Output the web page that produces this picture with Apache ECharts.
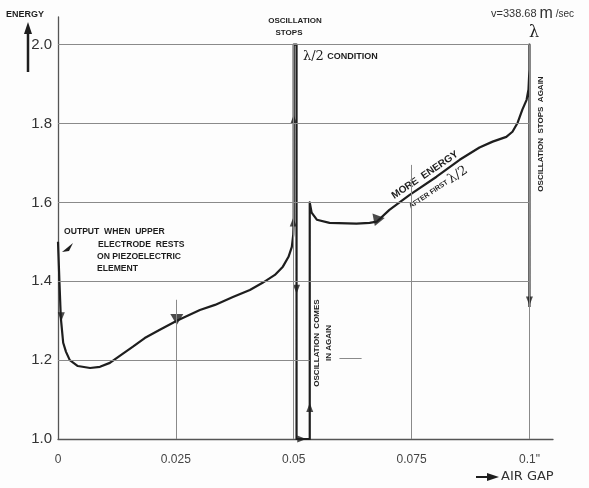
<!DOCTYPE html>
<html>
<head>
<meta charset="utf-8">
<script src="https://cdn.jsdelivr.net/npm/echarts@6/dist/echarts.min.js"></script>
<style>
  html, body { margin: 0; background: #fff; }
  #chart { width: 589px; height: 488px; }
</style>
</head>
<body>
<div id="chart"></div>
<script>
// air gap (inch) and energy, in the order the pen draws them
var airGap = [0, 0.0003, 0.0006, 0.0011, 0.0017, 0.0025, 0.0042, 0.0068, 0.0089, 0.011,
  0.0131, 0.0159, 0.0184, 0.0216, 0.0252, 0.0301, 0.0333, 0.0371, 0.0407, 0.0434,
  0.0460, 0.0477, 0.0489, 0.0496, 0.0499, 0.0500, 0.0500, 0.0506, 0.0506, 0.0534,
  0.0534, 0.0538, 0.0549, 0.0576, 0.0633, 0.0661, 0.0676, 0.0703, 0.0746, 0.0803,
  0.0852, 0.0894, 0.0922, 0.0951, 0.0964, 0.0975, 0.0985, 0.0994, 0.0998, 0.1,
  0.1, 0.1]
var energy = [1.50, 1.40, 1.307, 1.244, 1.221, 1.20, 1.185, 1.18, 1.183, 1.193,
  1.211, 1.234, 1.256, 1.277, 1.30, 1.327, 1.340, 1.360, 1.378, 1.396,
  1.416, 1.437, 1.462, 1.487, 1.518, 1.556, 2.0, 2.0, 1.0, 1.0,
  1.60, 1.574, 1.556, 1.548, 1.546, 1.548, 1.551, 1.581, 1.619, 1.665,
  1.708, 1.739, 1.754, 1.766, 1.779, 1.802, 1.835, 1.860, 1.886, 1.937,
  2.0, 1.335]

// arrow heads on the curve
var arrowGap = [0.0007, 0.0252, 0.0499, 0.0500, 0.0506, 0.0517, 0.0534, 0.0676, 0.1]
var arrowEnergy = [1.31, 1.303, 1.55, 1.81, 1.38, 1.0, 1.08, 1.553, 1.35]
var arrowRot = [180, 180, 0, 0, 180, -90, 0, 160, 180]
var arrowBig = [0, 1, 0, 0, 0, 0, 0, 1, 0]

// tick labels
var gapTicks = [0, 0.025, 0.05, 0.075, 0.1]
var gapLabels = ['0', '0.025', '0.05', '0.075', '0.1"']
var energyTicks = [1.0, 1.2, 1.4, 1.6, 1.8, 2.0]
var energyLabels = ['1.0', '1.2', '1.4', '1.6', '1.8', '2.0']

// hand drawn grid pieces: [energy, gap from, gap to] and [gap, energy from, energy to]
var hGrid = [[1.2, 0, 0.0534], [1.206, 0.0597, 0.0644], [1.4, 0, 0.1], [1.6, 0, 0.1], [1.8, 0, 0.1], [2.0, 0, 0.1]]
var vGrid = [[0.025, 1.0, 1.353], [0.05, 1.0, 2.0], [0.075, 1.0, 1.695], [0.1, 1.0, 2.0]]

function pickLabel(ticks, labels) {
  return function (v) {
    for (var i = 0; i < ticks.length; i++) {
      if (Math.abs(v - ticks[i]) < 1e-6) return labels[i]
    }
    return ''
  }
}

var path = airGap.map(function (g, i) { return [g, energy[i]] })
var arrows = arrowGap.map(function (g, i) { return [g, arrowEnergy[i], arrowRot[i], arrowBig[i]] })
var gridSegs = []
hGrid.forEach(function (h) { gridSegs.push([{ coord: [h[1], h[0]] }, { coord: [h[2], h[0]] }]) })
vGrid.forEach(function (v) { gridSegs.push([{ coord: [v[0], v[1]] }, { coord: [v[0], v[2]] }]) })

var ink = '#1e1e1e'
var letter = 'bold 8px "Liberation Sans", sans-serif'
var note = 'bold 8.6px "Liberation Sans", sans-serif'

var chart = echarts.init(document.getElementById('chart'))
var option = {
  animation: false,
  backgroundColor: '#fdfdfd',
  grid: { left: 58, right: 36, top: 17, bottom: 49 },
  xAxis: {
    type: 'value', min: 0, max: 0.105, interval: 0.025,
    axisLine: { show: true, lineStyle: { color: '#555', width: 1.3 } },
    axisTick: { show: false },
    splitLine: { show: false },
    axisLabel: {
      formatter: pickLabel(gapTicks, gapLabels), margin: 15,
      fontSize: 12, color: '#444', fontFamily: 'Liberation Sans'
    }
  },
  yAxis: {
    type: 'value', min: 1.0, max: 2.07, interval: 0.2,
    axisLine: { show: true, lineStyle: { color: '#555', width: 1.3 } },
    axisTick: { show: false },
    splitLine: { show: false },
    axisLabel: {
      formatter: pickLabel(energyTicks, energyLabels), margin: 6,
      fontSize: 15, color: '#333', fontFamily: 'Liberation Sans'
    }
  },
  series: [
    {
      type: 'line', data: [], z: 1, silent: true,
      markLine: {
        silent: true, symbol: 'none', label: { show: false },
        lineStyle: { color: '#8a8a8a', width: 1, type: 'solid' },
        emphasis: { disabled: true },
        data: gridSegs
      }
    },
    {
      type: 'line', data: path, z: 3, showSymbol: false, smooth: false,
      lineStyle: { color: ink, width: 2.2, join: 'round' }
    },
    {
      type: 'scatter', data: arrows, z: 4, symbol: 'triangle',
      symbolRotate: function (v) { return v[2] },
      symbolSize: function (v) { return v[3] ? [13, 11] : [7, 9] },
      itemStyle: { color: ink }
    }
  ],
  graphic: [
    { type: 'text', x: 6, y: 15, style: { text: 'ENERGY', font: 'bold 9px "Liberation Sans", sans-serif', fill: ink, textVerticalAlign: 'middle' } },
    { type: 'line', shape: { x1: 28, y1: 72, x2: 28, y2: 32 }, style: { stroke: ink, lineWidth: 2.5 } },
    { type: 'polygon', shape: { points: [[24, 34], [32, 34], [28, 22]] }, style: { fill: ink } },
    { type: 'text', x: 295, y: 21, style: { text: 'OSCILLATION', font: letter, fill: ink, textAlign: 'center', textVerticalAlign: 'middle' } },
    { type: 'text', x: 289, y: 33, style: { text: 'STOPS', font: letter, fill: ink, textAlign: 'center', textVerticalAlign: 'middle' } },
    {
      type: 'text', x: 303, y: 57,
      style: {
        text: '{l|λ/2} {c|CONDITION}', fill: ink, textVerticalAlign: 'middle',
        rich: { l: { font: '13px "DejaVu Serif", serif', fill: ink }, c: { font: 'bold 9px "Liberation Sans", sans-serif', fill: ink } }
      }
    },
    {
      type: 'text', x: 491, y: 14,
      style: {
        text: '{a|v=338.68 }{b|m}{c| /sec}', fill: ink, textVerticalAlign: 'middle',
        rich: {
          a: { font: '11px "Liberation Sans", sans-serif', fill: '#333' },
          b: { font: '16px "Liberation Sans", sans-serif', fill: '#333' },
          c: { font: '10px "Liberation Sans", sans-serif', fill: '#333' }
        }
      }
    },
    { type: 'text', x: 534, y: 33, style: { text: 'λ', font: '16px "DejaVu Serif", serif', fill: ink, textAlign: 'center', textVerticalAlign: 'middle' } },
    { type: 'text', x: 541, y: 134, rotation: Math.PI / 2, style: { text: 'OSCILLATION  STOPS  AGAIN', font: letter, fill: ink, textAlign: 'center', textVerticalAlign: 'middle' } },
    { type: 'text', x: 425, y: 175, rotation: 0.59, style: { text: 'MORE  ENERGY', font: 'bold 10px "Liberation Sans", sans-serif', fill: ink, textAlign: 'center', textVerticalAlign: 'middle' } },
    {
      type: 'text', x: 438, y: 188, rotation: 0.59,
      style: {
        text: '{a|AFTER FIRST }{l|λ/2}', fill: ink, textAlign: 'center', textVerticalAlign: 'middle',
        rich: { a: { font: 'bold 7px "Liberation Sans", sans-serif', fill: ink }, l: { font: '13px "DejaVu Serif", serif', fill: ink } }
      }
    },
    { type: 'text', x: 64, y: 232, style: { text: 'OUTPUT  WHEN  UPPER', font: note, fill: ink, textVerticalAlign: 'middle' } },
    { type: 'text', x: 98, y: 245, style: { text: 'ELECTRODE  RESTS', font: note, fill: ink, textVerticalAlign: 'middle' } },
    { type: 'text', x: 97, y: 257, style: { text: 'ON PIEZOELECTRIC', font: note, fill: ink, textVerticalAlign: 'middle' } },
    { type: 'text', x: 97, y: 269, style: { text: 'ELEMENT', font: note, fill: ink, textVerticalAlign: 'middle' } },
    { type: 'polygon', shape: { points: [[62, 252], [73, 243], [69, 251]] }, style: { fill: ink } },
    {
      type: 'text', x: 323, y: 343, rotation: Math.PI / 2,
      style: { text: 'OSCILLATION  COMES\nIN AGAIN', font: 'bold 8px "Liberation Sans", sans-serif', lineHeight: 12, fill: ink, textAlign: 'center', textVerticalAlign: 'middle' }
    },
    { type: 'line', shape: { x1: 476, y1: 477, x2: 492, y2: 477 }, style: { stroke: ink, lineWidth: 2 } },
    { type: 'polygon', shape: { points: [[487, 473], [487, 481], [499, 477]] }, style: { fill: ink } },
    { type: 'text', x: 501, y: 477, style: { text: 'AIR GAP', font: '13px "DejaVu Sans", sans-serif', fill: '#333', textVerticalAlign: 'middle' } }
  ]
}
chart.setOption(option)
</script>
</body>
</html>
